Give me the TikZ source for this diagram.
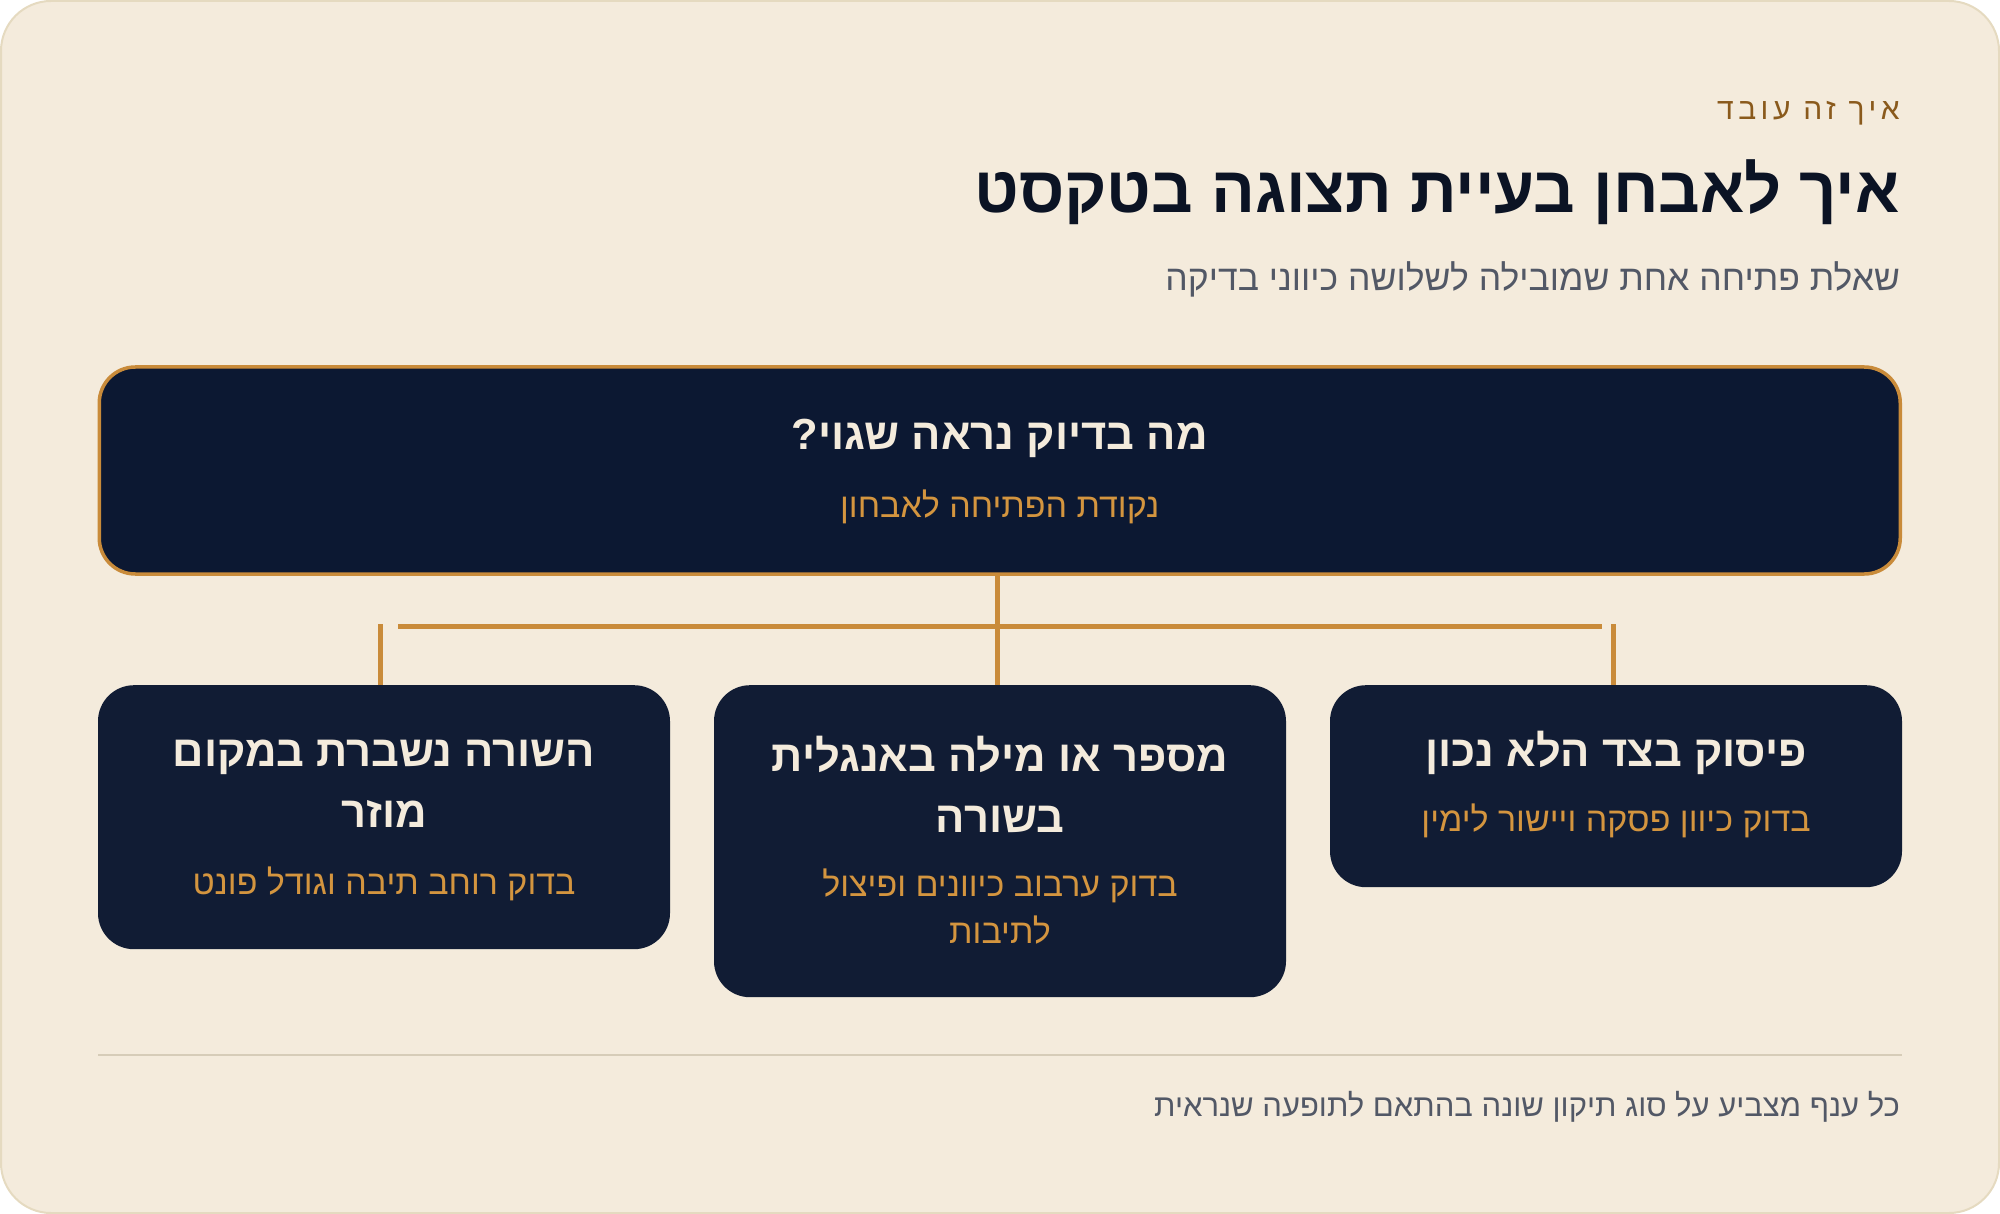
\documentclass[tikz,border=0pt]{standalone}
\usepackage{fontspec}
\setmainfont[Script=Hebrew]{Liberation Sans}
\TeXXeTstate=1
\newcommand{\heb}[1]{\beginR #1\endR}
\definecolor{bg}{HTML}{F4EBDC}
\definecolor{cardline}{HTML}{E5DAC0}
\definecolor{kickc}{HTML}{8A5A1C}
\definecolor{titlec}{HTML}{0B1324}
\definecolor{grayc}{HTML}{525866}
\definecolor{rootfill}{HTML}{0C1832}
\definecolor{gold}{HTML}{C98B3A}
\definecolor{goldtext}{HTML}{D4953F}
\definecolor{boxfill}{HTML}{111C34}
\definecolor{cream}{HTML}{F4EBDC}
\definecolor{sepc}{HTML}{D6CCB8}
\tikzset{
  kicker/.style={anchor=east, inner sep=0, text=kickc, font=\fontsize{30}{34}\selectfont\addfontfeatures{LetterSpace=15}},
  bigtitle/.style={anchor=east, inner sep=0, text=titlec, font=\fontsize{65}{72}\selectfont\bfseries},
  subt/.style={anchor=east, inner sep=0, text=grayc, font=\fontsize{35.5}{40}\selectfont},
  footc/.style={anchor=east, inner sep=0, text=grayc, font=\fontsize{31}{36}\selectfont},
  rootbox/.style={draw=gold, line width=3.5, fill=rootfill, rounded corners=36, minimum width=1801, minimum height=207, inner sep=0},
  childbox/.style={fill=boxfill, rounded corners=36, minimum width=572, inner sep=0, anchor=north},
  btitle/.style={text=cream, font=\fontsize{43.5}{61}\selectfont\bfseries, align=center, inner sep=0},
  bsub/.style={text=goldtext, font=\fontsize{34}{47}\selectfont, align=center, inner sep=0},
  conn/.style={draw=gold, line width=5}
}
\begin{document}
\begin{tikzpicture}[x=1pt,y=-1pt]
\useasboundingbox (0,0) rectangle (2000,1214);
\draw[fill=bg, draw=cardline, line width=2, rounded corners=50] (1,1) rectangle (1999,1213);

\node[kicker] (kick) at (1900,113) {\heb{איך זה עובד}};
\node[bigtitle] (title) at (1900,192) {\heb{איך לאבחן בעיית תצוגה בטקסט}};
\node[subt] (sub) at (1900,279) {\heb{שאלת פתיחה אחת שמובילה לשלושה כיווני בדיקה}};

\node[rootbox] (root) at (999.75,470.5) {};
\node[btitle] (roott) at (999.75,438) {\heb{מה בדיוק נראה שגוי?}};
\node[bsub] (roots) at (999.75,507) {\heb{נקודת הפתיחה לאבחון}};

\node[childbox, minimum height=264] (left) at (384,685) {};
\node[childbox, minimum height=312] (mid) at (1000,685) {};
\node[childbox, minimum height=202] (right) at (1616,685) {};

\node[btitle] (leftt) at (384,784) {\heb{השורה נשברת במקום}\\\heb{מוזר}};
\node[bsub] (lefts) at (384,884) {\heb{בדוק רוחב תיבה וגודל פונט}};
\node[btitle] (midt) at (1000,784) {\heb{מספר או מילה באנגלית}\\\heb{בשורה}};
\node[bsub] (mids) at (1000,907) {\heb{בדוק ערבוב כיוונים ופיצול}\\\heb{לתיבות}};
\node[btitle] (rightt) at (1616,753) {\heb{פיסוק בצד הלא נכון}};
\node[bsub] (rights) at (1616,821) {\heb{בדוק כיוון פסקה ויישור לימין}};

\coordinate (barL) at (398,626);
\coordinate (barR) at (1602,626);
\coordinate (lTop) at (380,624);
\coordinate (rTop) at (1613,624);
\coordinate (mTop) at (997,574);
\draw[conn] (mTop |- root.south) -- (mTop |- mid.north);
\draw[conn] (barL) -- (barR);
\draw[conn] (lTop) -- (lTop |- left.north);
\draw[conn] (rTop) -- (rTop |- right.north);

\coordinate (sepL) at (98,1055);
\coordinate (sepR) at (1902,1055);
\draw[sepc, line width=2] (sepL) -- (sepR);
\node[footc] (foot) at (1900,1107) {\heb{כל ענף מצביע על סוג תיקון שונה בהתאם לתופעה שנראית}};
\end{tikzpicture}
\end{document}
